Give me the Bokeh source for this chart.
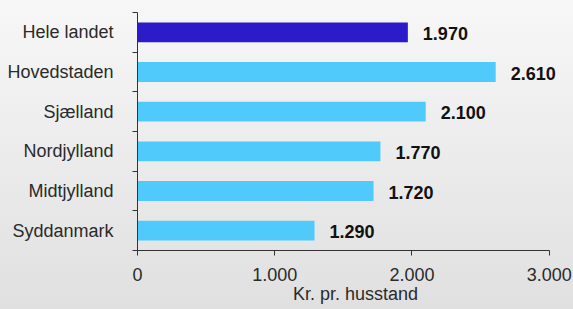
from bokeh.plotting import figure
from bokeh.models import Range1d, FixedTicker, GlobalInlineStyleSheet, ColumnDataSource
from bokeh.core.properties import value
from bokeh.embed import file_html
from bokeh.resources import INLINE

# ---- data ----
categories = ["Hele landet", "Hovedstaden", "Sjælland", "Nordjylland", "Midtjylland", "Syddanmark"]
values = [1970, 2610, 2100, 1770, 1720, 1290]
value_labels = ["1.970", "2.610", "2.100", "1.770", "1.720", "1.290"]
x_ticks = [0, 1000, 2000, 3000]
x_tick_labels = ["0", "1.000", "2.000", "3.000"]
x_axis_title = "Kr. pr. husstand"

# ---- styles ----
DARK = "#2b1bc9"
LIGHT = "#50c9fb"
FONT = "Liberation Sans"
TXT = "#2a2a2a"

n = len(categories)
ys = [i + 0.5 for i in range(n)]
bounds = list(range(n + 1))
colors = [DARK] + [LIGHT] * (n - 1)

src = ColumnDataSource(dict(y=ys, v=values, lab=value_labels, c=colors))

X_END = 3177
p = figure(width=573, height=309, output_backend="svg", toolbar_location=None,
           x_range=Range1d(0, X_END), y_range=Range1d(n, 0),
           min_border_left=137, min_border_right=0, min_border_top=12, min_border_bottom=59)

p.background_fill_alpha = 0
p.border_fill_alpha = 0
p.outline_line_color = None
p.xgrid.grid_line_color = None
p.ygrid.grid_line_color = None
p.stylesheets = [GlobalInlineStyleSheet(css="html { background: linear-gradient(to bottom, #f7f7f7, #e0e0e0); min-height: 100%; }")]

p.hbar(y="y", right="v", left=0, height=0.5, fill_color="c", line_color=None, source=src)
p.text(x="v", y="y", text="lab", x_offset=15, y_offset=1, text_baseline="middle", text_align="left",
       text_font=value(FONT), text_font_style="bold", text_font_size="18px", text_color="#111111", source=src)

# x axis
xa = p.xaxis[0]
xa.ticker = FixedTicker(ticks=x_ticks)
xa.major_label_overrides = dict(zip(x_ticks, x_tick_labels))
xa.bounds = (x_ticks[0], x_ticks[-1])
xa.axis_line_color = "#333333"
xa.major_tick_line_color = "#333333"
xa.major_tick_out = 5
xa.major_tick_in = 0
xa.minor_tick_line_color = None
xa.major_label_standoff = 12
xa.major_label_text_font = FONT
xa.major_label_text_font_size = "18px"
xa.major_label_text_color = TXT
xa.axis_label = x_axis_title
xa.axis_label_standoff = 0
xa.axis_label_text_font = FONT
xa.axis_label_text_font_size = "18px"
xa.axis_label_text_font_style = "normal"
xa.axis_label_text_color = TXT

# y axis
ya = p.yaxis[0]
ya.ticker = FixedTicker(ticks=ys, minor_ticks=bounds)
ya.major_label_overrides = dict(zip(ys, categories))
ya.axis_line_color = "#333333"
ya.major_tick_line_color = None
ya.major_tick_out = 0
ya.major_tick_in = 0
ya.minor_tick_line_color = "#333333"
ya.minor_tick_out = 5
ya.minor_tick_in = 0
ya.major_label_standoff = 19
ya.major_label_text_font = FONT
ya.major_label_text_font_size = "18px"
ya.major_label_text_color = TXT

open("out.html", "w").write(file_html(p, INLINE))
